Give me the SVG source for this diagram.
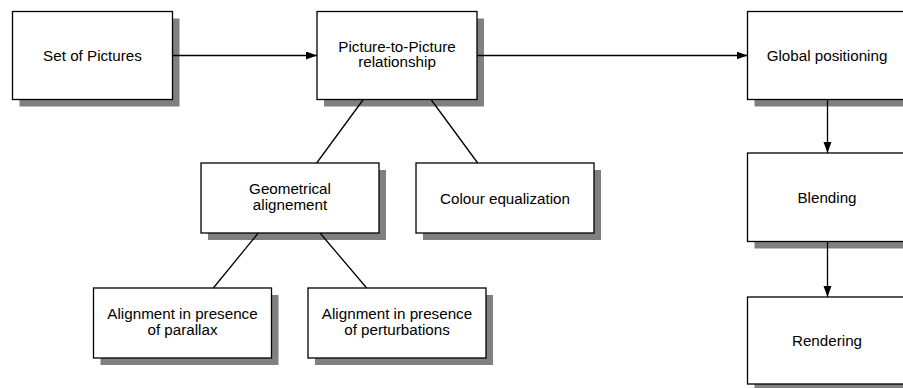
<svg xmlns="http://www.w3.org/2000/svg" width="903" height="388" viewBox="0 0 903 388">
<style>
.shadow{fill:#808080;stroke:none}
.box{fill:#ffffff;stroke:#000000;stroke-width:1.3}
.lbl{font-family:"Liberation Sans",Arial,sans-serif;font-size:15.2px;fill:#000000;text-anchor:middle}
.conn{stroke:#000000;stroke-width:1.3;fill:none}
</style>
<defs>
<marker id="arr" markerUnits="userSpaceOnUse" markerWidth="12" markerHeight="9" refX="11" refY="4" orient="auto">
<path d="M0,0 L11,4 L0,8 z" fill="#000000"/>
</marker>
</defs>
<g id="set-of-pictures">
<rect class="shadow" x="19.5" y="18.5" width="160" height="88"/>
<rect class="box" x="12.5" y="11.5" width="160" height="88"/>
<text class="lbl" x="92.5" y="60.5">Set of Pictures</text>
</g>
<g id="picture-to-picture">
<rect class="shadow" x="324" y="18.5" width="160" height="88"/>
<rect class="box" x="317" y="11.5" width="160" height="88"/>
<text class="lbl" x="397" y="51.5">Picture-to-Picture</text>
<text class="lbl" x="397" y="67">relationship</text>
</g>
<g id="global-positioning">
<rect class="shadow" x="754.5" y="18.5" width="160" height="88"/>
<rect class="box" x="747.5" y="11.5" width="160" height="88"/>
<text class="lbl" x="827" y="60.5">Global positioning</text>
</g>
<g id="blending">
<rect class="shadow" x="754.5" y="160" width="160" height="88.5"/>
<rect class="box" x="747.5" y="153" width="160" height="88.5"/>
<text class="lbl" x="827" y="203">Blending</text>
</g>
<g id="rendering">
<rect class="shadow" x="754.5" y="304" width="160" height="87"/>
<rect class="box" x="747.5" y="297" width="160" height="87"/>
<text class="lbl" x="827" y="346">Rendering</text>
</g>
<g id="geometrical-alignement">
<rect class="shadow" x="208" y="170" width="178" height="70"/>
<rect class="box" x="201" y="163" width="178" height="70"/>
<text class="lbl" x="290" y="194">Geometrical</text>
<text class="lbl" x="290" y="210">alignement</text>
</g>
<g id="colour-equalization">
<rect class="shadow" x="423" y="170" width="178" height="70"/>
<rect class="box" x="416" y="163" width="178" height="70"/>
<text class="lbl" x="505" y="203.5">Colour equalization</text>
</g>
<g id="alignment-parallax">
<rect class="shadow" x="100.5" y="295" width="178" height="70"/>
<rect class="box" x="93.5" y="288" width="178" height="70"/>
<text class="lbl" x="182.5" y="319">Alignment in presence</text>
<text class="lbl" x="182.5" y="335">of parallax</text>
</g>
<g id="alignment-perturbations">
<rect class="shadow" x="315" y="295" width="178" height="70"/>
<rect class="box" x="308" y="288" width="178" height="70"/>
<text class="lbl" x="397" y="319">Alignment in presence</text>
<text class="lbl" x="397" y="335">of perturbations</text>
</g>
<g id="connectors">
<line class="conn" x1="172.5" y1="55.5" x2="317" y2="55.5" marker-end="url(#arr)"/>
<line class="conn" x1="477" y1="55.5" x2="747.5" y2="55.5" marker-end="url(#arr)"/>
<line class="conn" x1="827.5" y1="99.5" x2="827.5" y2="153" marker-end="url(#arr)"/>
<line class="conn" x1="827.5" y1="241.5" x2="827.5" y2="297" marker-end="url(#arr)"/>
<line class="conn" x1="363.3" y1="99.5" x2="316.7" y2="163"/>
<line class="conn" x1="431" y1="99.5" x2="477.7" y2="163"/>
<line class="conn" x1="258.3" y1="233" x2="213.3" y2="288"/>
<line class="conn" x1="320" y1="233" x2="366.7" y2="288"/>
</g>
</svg>
